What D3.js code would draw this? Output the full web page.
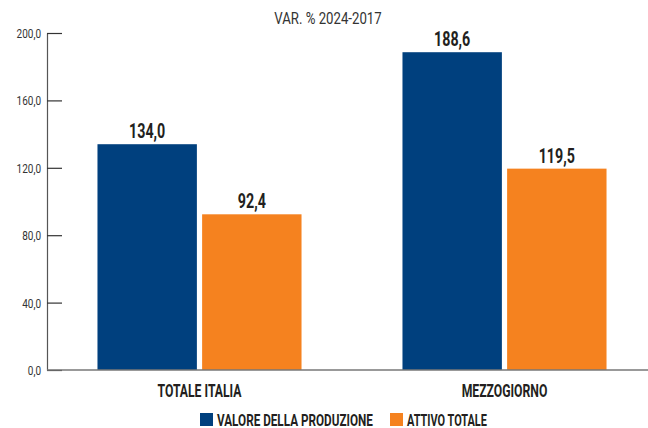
<!DOCTYPE html>
<html>
<head>
<meta charset="utf-8">
<script src="https://cdn.jsdelivr.net/npm/d3@7"></script>
<style>
  html, body { margin: 0; padding: 0; background: #fff; }
  svg { display: block; }
</style>
</head>
<body>
<svg id="chart" width="648" height="428"></svg>
<script>
// data
const categories = ["TOTALE ITALIA", "MEZZOGIORNO"];
const series = ["VALORE DELLA PRODUZIONE", "ATTIVO TOTALE"];
const valoreProduzione = [134.0, 188.6];
const attivoTotale = [92.4, 119.5];
const yTicks = [0, 40, 80, 120, 160, 200];

const seriesValues = [valoreProduzione, attivoTotale];
const colors = ["#00407e", "#f5821f"];
const font = "Roboto, 'Liberation Sans', sans-serif";
const fmt = v => d3.format(".1f")(v).replace(".", ",");

// squeeze text horizontally to get the condensed look of the original
function condense(sel, ratio) {
  sel.each(function() {
    const t = d3.select(this);
    const x = +t.attr("x") || 0, y = +t.attr("y") || 0;
    t.attr("x", 0).attr("y", 0)
      .attr("transform", `translate(${x},${y}) scale(${ratio},1)`);
  });
}

const svg = d3.select("#chart");
const width = 648, height = 428;

const x0 = d3.scaleBand()
  .domain(categories)
  .range([47, 657])
  .paddingInner(0.331)
  .paddingOuter(0.1655);

const x1 = d3.scaleBand()
  .domain(series)
  .range([0, x0.bandwidth()])
  .paddingInner(0.05);

const y = d3.scaleLinear()
  .domain([0, 200])
  .range([370, 33]);

// title, cut off at the top of the picture
svg.append("text")
  .attr("x", width / 2)
  .attr("y", -4)
  .attr("text-anchor", "middle")
  .attr("font-family", font)
  .attr("font-weight", "bold")
  .attr("font-size", 20)
  .attr("fill", "#f5821f")
  .attr("fill-opacity", 0.6)
  .text("CONFRONTO TRA VALORE DELLA produzione E ATTIVO TOTALE")
  .call(condense, 0.75);

svg.append("text")
  .attr("x", 328)
  .attr("y", 24)
  .attr("text-anchor", "middle")
  .attr("font-family", font)
  .attr("font-size", 16.5)
  .attr("fill", "#333")
  .text("VAR. % 2024-2017")
  .call(condense, 0.8);

// bars
const groups = svg.append("g")
  .selectAll("g")
  .data(categories)
  .join("g")
  .attr("transform", d => `translate(${x0(d)},0)`);

const cells = (d, i) => series.map((s, j) => ({ s, j, v: seriesValues[j][i] }));

groups.selectAll("rect")
  .data(cells)
  .join("rect")
  .attr("x", d => x1(d.s))
  .attr("y", d => y(d.v))
  .attr("width", x1.bandwidth())
  .attr("height", d => y(0) - y(d.v))
  .attr("fill", d => colors[d.j]);

groups.selectAll("text.val")
  .data(cells)
  .join("text")
  .attr("class", "val")
  .attr("x", d => x1(d.s) + x1.bandwidth() / 2)
  .attr("y", d => y(d.v) - 6)
  .attr("text-anchor", "middle")
  .attr("font-family", font)
  .attr("font-weight", "bold")
  .attr("font-size", 21)
  .attr("fill", "#231f20")
  .text(d => fmt(d.v))
  .call(condense, 0.68);

// y axis
const yAxis = svg.append("g")
  .attr("transform", "translate(47,0)")
  .call(d3.axisLeft(y)
    .tickValues(yTicks)
    .tickFormat(fmt)
    .tickSizeInner(-15)
    .tickSizeOuter(0)
    .tickPadding(6));

yAxis.select(".domain").attr("stroke", "#555").attr("stroke-width", 1.2);
yAxis.selectAll(".tick line").attr("stroke", "#333").attr("stroke-width", 1.2);
yAxis.selectAll(".tick text")
  .attr("font-family", font)
  .attr("font-size", 12.5)
  .attr("fill", "#333")
  .attr("dy", null)
  .attr("y", 4.5)
  .attr("x", -6)
  .call(condense, 0.8);

// x axis baseline
svg.append("line")
  .attr("x1", 47).attr("x2", width)
  .attr("y1", y(0)).attr("y2", y(0))
  .attr("stroke", "#777")
  .attr("stroke-width", 1.5);

svg.append("g")
  .selectAll("text")
  .data(categories)
  .join("text")
  .attr("x", d => x0(d) + x0.bandwidth() / 2)
  .attr("y", 397)
  .attr("text-anchor", "middle")
  .attr("font-family", font)
  .attr("font-weight", "bold")
  .attr("font-size", 18.5)
  .attr("fill", "#231f20")
  .text(d => d)
  .call(condense, 0.66);

// legend
const legend = svg.append("g").attr("transform", "translate(200,413)");
const legendX = [0, 190];
const legendW = [156, 80];
series.forEach((s, j) => {
  const g = legend.append("g").attr("transform", `translate(${legendX[j]},0)`);
  g.append("rect")
    .attr("width", 13).attr("height", 13)
    .attr("fill", colors[j]);
  const t = g.append("text")
    .attr("x", 17)
    .attr("y", 12.5)
    .attr("font-family", font)
    .attr("font-weight", "bold")
    .attr("font-size", 16)
    .attr("fill", "#231f20")
    .text(s);
  t.call(condense, legendW[j] / t.node().getComputedTextLength());
});
</script>
</body>
</html>
